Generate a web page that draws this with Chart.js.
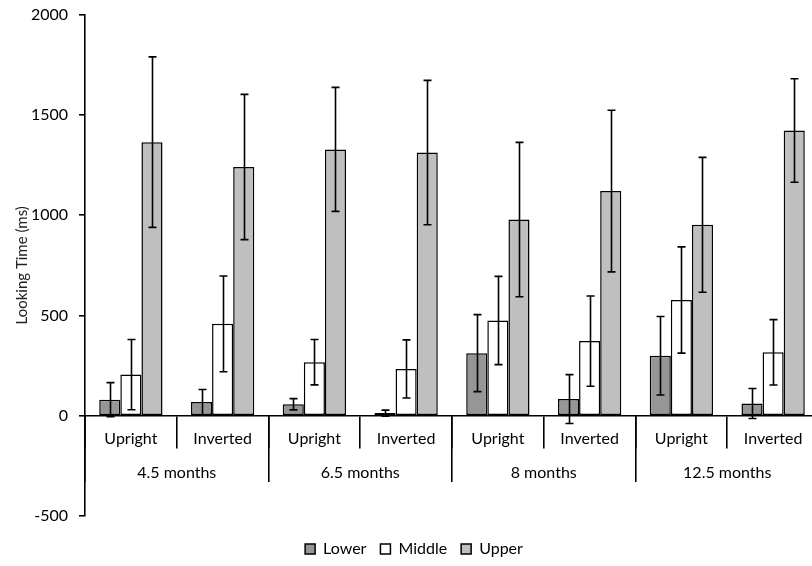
<!DOCTYPE html>
<html>
<head>
<meta charset="utf-8">
<script src="https://cdn.jsdelivr.net/npm/chart.js@4/dist/chart.umd.min.js"></script>
<style>
  html, body { margin: 0; padding: 0; background: #fff; overflow: hidden; }
  #wrap { width: 830px; height: 573px; margin-top: -6px; }
</style>
</head>
<body>
<div id="wrap"><canvas id="chart" width="830" height="573"></canvas></div>
<script>
// Data
const orientations = ['Upright', 'Inverted', 'Upright', 'Inverted', 'Upright', 'Inverted', 'Upright', 'Inverted'];
const ages = ['4.5 months', '6.5 months', '8 months', '12.5 months'];

const lower = [80, 68, 57, 13, 312, 83, 299, 61];
const lowerErr = [85, 63, 28, 15, 192, 122, 196, 75];
const middle = [205, 458, 267, 233, 475, 372, 577, 316];
const middleErr = [175, 239, 113, 145, 220, 225, 265, 163];
const upper = [1364, 1240, 1328, 1312, 978, 1120, 952, 1422];
const upperErr = [425, 362, 309, 360, 385, 403, 336, 258];

const yTicks = [-500, 0, 500, 1000, 1500, 2000];

const FONT = 'Lato, "Open Sans", sans-serif';

// draws the +/- error bars on top of each bar
const errorBars = {
    id: 'errorBars',
    afterDatasetsDraw(chart) {
        const ctx = chart.ctx;
        const y = chart.scales.y;
        ctx.save();
        ctx.strokeStyle = '#000';
        ctx.lineWidth = 1.6;
        chart.data.datasets.forEach(function(ds, di) {
            const meta = chart.getDatasetMeta(di);
            meta.data.forEach(function(bar, i) {
                const v = ds.data[i];
                const e = ds.errors[i];
                const top = y.getPixelForValue(v + e);
                const bot = y.getPixelForValue(v - e);
                const cx = Math.round(bar.x) + 0.5;
                ctx.beginPath();
                ctx.moveTo(cx, top);
                ctx.lineTo(cx, bot);
                ctx.moveTo(cx - 4, top);
                ctx.lineTo(cx + 4, top);
                ctx.moveTo(cx - 4, bot);
                ctx.lineTo(cx + 4, bot);
                ctx.stroke();
            });
        });
        ctx.restore();
    }
};

new Chart(document.getElementById('chart').getContext('2d'), {
    type: 'bar',
    data: {
        labels: orientations,
        datasets: [
            { label: 'Lower', data: lower, errors: lowerErr, backgroundColor: '#969696' },
            { label: 'Middle', data: middle, errors: middleErr, backgroundColor: '#ffffff' },
            { label: 'Upper', data: upper, errors: upperErr, backgroundColor: '#bfbfbf' }
        ].map(function(d) {
            return Object.assign(d, {
                borderColor: '#000',
                borderWidth: 1.5,
                borderSkipped: false,
                barPercentage: 1,
                categoryPercentage: 0.69
            });
        })
    },
    options: {
        responsive: false,
        animation: false,
        layout: { padding: { top: 8, left: 9, right: 11, bottom: 0 } },
        plugins: {
            tooltip: { enabled: false },
            legend: {
                position: 'bottom',
                // empty title only used as spacing above the items
                title: { display: true, text: '', font: { size: 5 }, padding: { top: 5, bottom: 0 } },
                labels: {
                    boxWidth: 10,
                    boxHeight: 10,
                    padding: 14,
                    color: '#000',
                    font: { family: FONT, size: 16 }
                }
            }
        },
        scales: {
            y: {
                min: -500,
                max: 2000,
                afterBuildTicks(scale) {
                    scale.ticks = yTicks.map(function(v) { return { value: v }; });
                },
                afterFit(scale) {
                    scale.width = 76;
                },
                border: { color: '#000', width: 1.6 },
                grid: { drawOnChartArea: false, tickLength: 6, color: '#000', lineWidth: 1.6 },
                ticks: {
                    padding: 11,
                    color: '#000',
                    font: { family: FONT, size: 16 },
                    callback: function(v) { return String(v); }
                },
                title: {
                    display: true,
                    text: 'Looking Time (ms)',
                    color: '#222',
                    font: { family: FONT, size: 15 }
                }
            },
            x: {
                position: { y: 0 },
                offset: true,
                border: { color: '#000', width: 1.6 },
                grid: { offset: true, drawOnChartArea: false, tickLength: 32, color: '#000', lineWidth: 1.6 },
                ticks: { padding: -18, color: '#000', font: { family: FONT, size: 16 } }
            },
            x2: {
                type: 'category',
                labels: ages,
                position: { y: 0 },
                offset: true,
                border: { display: false },
                grid: { offset: true, drawOnChartArea: false, tickLength: 66, color: '#000', lineWidth: 1.6 },
                ticks: { padding: -18, color: '#000', font: { family: FONT, size: 16 } }
            }
        }
    },
    plugins: [errorBars]
});
</script>
</body>
</html>
